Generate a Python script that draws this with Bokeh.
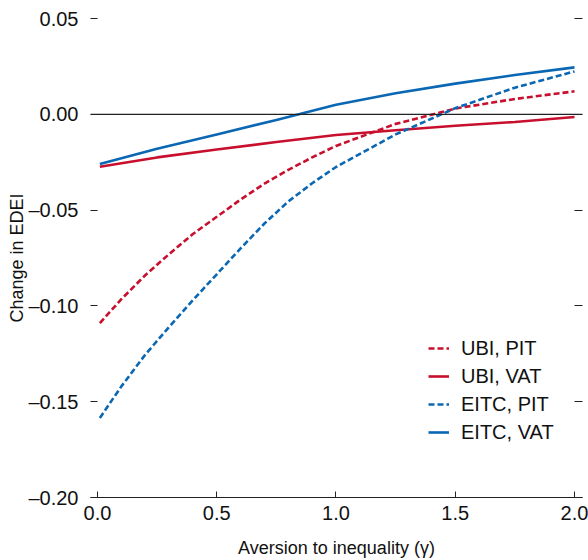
from bokeh.plotting import figure
from bokeh.models import Span, LinearAxis, FixedTicker, Legend, LegendItem, Range1d
from bokeh.embed import file_html
from bokeh.resources import INLINE

# PIT-financed scenarios (read at finer steps, they are curved)
gamma_pit = [0.01, 0.1, 0.2, 0.3, 0.4, 0.5, 0.6, 0.7, 0.8, 0.9, 1.0, 1.25, 1.5, 1.75, 2.0]
ubi_pit = [-0.109, -0.0965, -0.084, -0.073, -0.0625, -0.0535, -0.0445, -0.0362, -0.029,
           -0.0225, -0.0165, -0.005, 0.003, 0.008, 0.012]
eitc_pit = [-0.1585, -0.142, -0.1255, -0.111, -0.097, -0.0835, -0.070, -0.057, -0.0455,
            -0.036, -0.0275, -0.0105, 0.0032, 0.0139, 0.0224]

# VAT-financed scenarios
gamma_vat = [0.01, 0.25, 0.5, 0.75, 1.0, 1.25, 1.5, 1.75, 2.0]
ubi_vat = [-0.0274, -0.0225, -0.0184, -0.0145, -0.0108, -0.0083, -0.006, -0.004, -0.0014]
eitc_vat = [-0.026, -0.018, -0.0105, -0.003, 0.005, 0.011, 0.016, 0.0205, 0.0245]

x_ticks = [0.0, 0.5, 1.0, 1.5, 2.0]
x_tick_labels = ["0.0", "0.5", "1.0", "1.5", "2.0"]
y_ticks = [-0.2, -0.15, -0.1, -0.05, 0.0, 0.05]
y_tick_labels = ["\u20130.20", "\u20130.15", "\u20130.10", "\u20130.05", "0.00", "0.05"]

RED = "#c8102e"
BLUE = "#0a67b3"
FONT = "Liberation Sans"
TXT = "#111111"

p = figure(width=588, height=560, output_backend="svg", toolbar_location=None,
           x_range=Range1d(-0.0293, 2.0335), y_range=Range1d(-0.2, 0.05),
           min_border_left=90, min_border_right=6, min_border_top=18, min_border_bottom=62)
p.outline_line_color = None
p.grid.visible = False
p.background_fill_color = "white"

# zero line
p.add_layout(Span(location=0, dimension="width", line_color="#222222", line_width=1.2))

r1 = p.line(gamma_pit, ubi_pit, line_color=RED, line_width=2.6, line_dash="6 3")
r2 = p.line(gamma_vat, ubi_vat, line_color=RED, line_width=2.6)
r3 = p.line(gamma_pit, eitc_pit, line_color=BLUE, line_width=2.6, line_dash="6 3")
r4 = p.line(gamma_vat, eitc_vat, line_color=BLUE, line_width=2.6)

# x axis
xa = p.xaxis[0]
xa.ticker = FixedTicker(ticks=x_ticks)
xa.major_label_overrides = {t: l for t, l in zip(x_ticks, x_tick_labels)}
xa.major_tick_in = 6
xa.major_tick_out = 0
xa.minor_tick_line_color = None
xa.axis_line_color = "#222222"
xa.axis_line_width = 1.2
xa.major_tick_line_color = "#222222"
xa.major_label_text_font = FONT
xa.major_label_text_font_size = "20px"
xa.major_label_text_color = TXT
xa.major_label_standoff = 8
xa.axis_label = "Aversion to inequality (\u03b3)"
xa.axis_label_text_font = FONT
xa.axis_label_text_font_size = "18px"
xa.axis_label_text_font_style = "normal"
xa.axis_label_text_color = TXT
xa.axis_label_standoff = 15

ya = p.yaxis[0]
ya.ticker = FixedTicker(ticks=y_ticks)
ya.major_label_overrides = {t: l for t, l in zip(y_ticks, y_tick_labels)}
ya.major_tick_in = 7
ya.major_tick_out = 0
ya.minor_tick_line_color = None
ya.axis_line_color = None
ya.major_tick_line_color = "#222222"
ya.major_label_text_font = FONT
ya.major_label_text_font_size = "20px"
ya.major_label_text_color = TXT
ya.major_label_standoff = 12
ya.axis_label = "Change in EDEI"
ya.axis_label_text_font = FONT
ya.axis_label_text_font_size = "18px"
ya.axis_label_text_font_style = "normal"
ya.axis_label_text_color = TXT
ya.axis_label_standoff = -2

ra = LinearAxis(ticker=FixedTicker(ticks=y_ticks))
ra.major_label_overrides = {t: "" for t in y_ticks}
ra.major_label_text_font_size = "0px"
ra.major_label_standoff = 0
ra.major_tick_in = 8
ra.major_tick_out = 0
ra.minor_tick_line_color = None
ra.axis_line_color = None
ra.major_tick_line_color = "#222222"
p.add_layout(ra, "right")

legend = Legend(items=[
    LegendItem(label="UBI, PIT", renderers=[r1]),
    LegendItem(label="UBI, VAT", renderers=[r2]),
    LegendItem(label="EITC, PIT", renderers=[r3]),
    LegendItem(label="EITC, VAT", renderers=[r4]),
], location=(338, 53))
legend.border_line_color = None
legend.background_fill_alpha = 0
legend.padding = 0
legend.margin = 0
legend.spacing = 4
legend.glyph_width = 21
legend.glyph_height = 20
legend.label_height = 24
legend.label_standoff = 12
legend.label_text_font = FONT
legend.label_text_font_size = "20px"
legend.label_text_color = TXT
p.add_layout(legend, "center")

open("out.html", "w").write(file_html(p, INLINE))
